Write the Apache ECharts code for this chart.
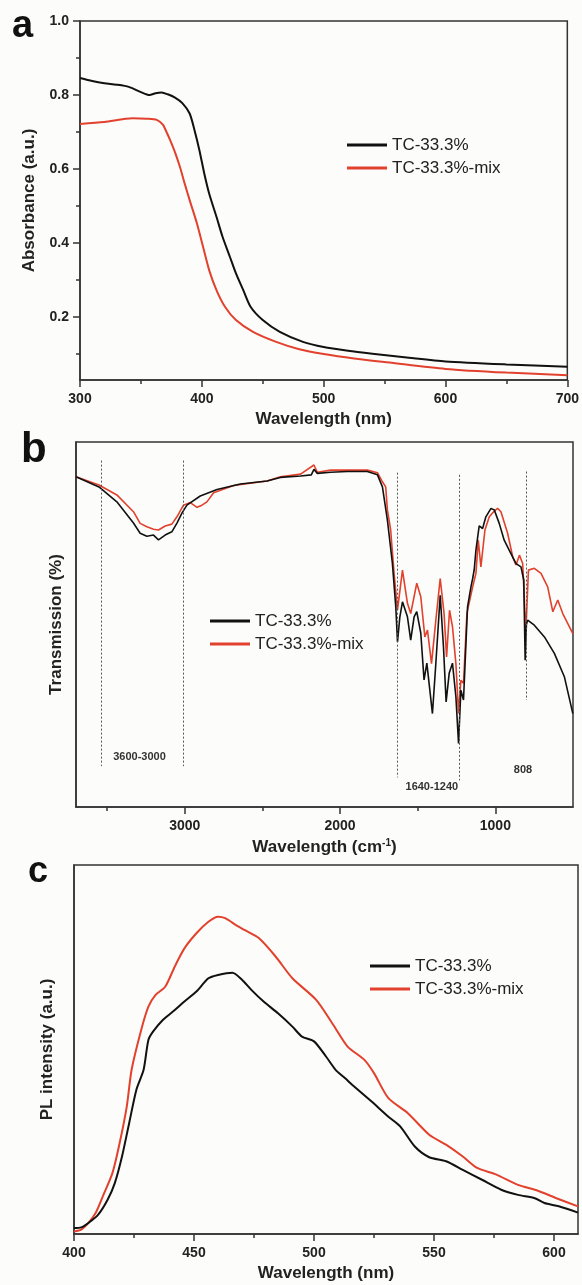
<!DOCTYPE html>
<html>
<head>
<meta charset="utf-8">
<script src="https://cdn.jsdelivr.net/npm/echarts@6/dist/echarts.min.js"></script>
<style>
  html, body { margin: 0; padding: 0; background: #fcfcfa; }
  #chart { width: 582px; height: 1285px; }
</style>
</head>
<body>
<div id="chart"></div>
<script>
// ---- panel a: absorbance ----
const absWlBlack = [300, 310, 320, 330, 340, 350, 357, 362, 367, 372, 378, 384, 390, 394, 398, 402, 406, 412, 417, 423, 428, 434, 440, 450, 464, 483, 500, 520, 540, 570, 600, 650, 700]
const absBlack = [0.846, 0.838, 0.832, 0.828, 0.822, 0.808, 0.800, 0.805, 0.807, 0.802, 0.793, 0.778, 0.750, 0.705, 0.651, 0.588, 0.534, 0.471, 0.417, 0.363, 0.318, 0.273, 0.228, 0.192, 0.160, 0.133, 0.119, 0.109, 0.101, 0.090, 0.080, 0.072, 0.066]
const absWlRed = [300, 320, 343, 355, 363, 368, 371, 374, 378, 382, 386, 390, 396, 401, 406, 412, 419, 428, 442, 461, 480, 500, 525, 554, 600, 650, 700]
const absRed = [0.722, 0.727, 0.737, 0.736, 0.733, 0.720, 0.700, 0.678, 0.645, 0.606, 0.560, 0.516, 0.453, 0.390, 0.327, 0.273, 0.228, 0.192, 0.160, 0.133, 0.113, 0.100, 0.088, 0.077, 0.060, 0.050, 0.043]
const absXLabels = [300, 400, 500, 600, 700]
const absXMinor = [350, 450, 550, 650]
const absYLabels = [0.2, 0.4, 0.6, 0.8, 1.0]
const absYMinor = [0.1, 0.3, 0.5, 0.7, 0.9]

// ---- panel b: FTIR transmission ----
const ftirWnBlack = [3700, 3552, 3437, 3330, 3287, 3244, 3201, 3169, 3126, 3083, 3050, 3018, 2986, 2900, 2792, 2642, 2470, 2384, 2254, 2185, 2168, 2146, 2061, 1953, 1824, 1759, 1727, 1695, 1663, 1641, 1630, 1615, 1598, 1566, 1545, 1523, 1506, 1480, 1459, 1441, 1405, 1383, 1355, 1334, 1317, 1297, 1276, 1254, 1237, 1222, 1205, 1179, 1157, 1146, 1136, 1125, 1104, 1082, 1061, 1028, 1007, 975, 943, 911, 867, 835, 817, 808, 800, 792, 749, 684, 620, 555, 501]
const ftirBlack = [90.5, 87.7, 83.6, 77.8, 75.0, 74.2, 74.5, 73.2, 74.5, 75.4, 77.8, 80.5, 82.7, 85.2, 87.0, 88.5, 89.3, 90.3, 90.7, 91.0, 92.5, 91.4, 91.7, 91.9, 91.9, 91.0, 87.7, 78.6, 66.8, 54.8, 45.2, 52.0, 56.2, 52.1, 45.7, 52.1, 53.5, 47.6, 34.8, 39.4, 25.6, 39.4, 58.0, 43.9, 28.8, 36.7, 39.4, 30.2, 17.4, 32.0, 29.3, 54.8, 60.3, 62.6, 65.0, 70.4, 77.0, 76.3, 79.5, 81.8, 81.4, 77.7, 73.1, 70.4, 66.7, 65.8, 62.2, 40.2, 50.0, 51.2, 49.8, 46.6, 42.1, 35.6, 25.6]
const ftirWnRed = [3700, 3552, 3437, 3330, 3287, 3244, 3201, 3169, 3126, 3083, 3050, 3008, 2964, 2921, 2889, 2857, 2814, 2685, 2470, 2384, 2254, 2168, 2146, 2061, 1953, 1824, 1759, 1727, 1706, 1695, 1674, 1652, 1630, 1598, 1566, 1545, 1506, 1480, 1454, 1437, 1411, 1383, 1355, 1330, 1314, 1295, 1276, 1254, 1237, 1222, 1205, 1183, 1146, 1125, 1110, 1093, 1067, 1039, 1011, 985, 964, 921, 888, 867, 845, 824, 814, 804, 787, 749, 706, 663, 630, 598, 566, 501]
const ftirRed = [90.5, 88.2, 85.5, 80.9, 77.7, 76.8, 76.1, 75.9, 77.0, 77.5, 79.5, 82.7, 83.4, 82.1, 82.7, 83.6, 86.1, 88.1, 89.3, 90.5, 91.2, 93.7, 91.7, 92.3, 92.3, 92.3, 91.6, 89.1, 87.7, 81.4, 75.9, 64.0, 54.0, 64.9, 55.8, 53.0, 61.3, 57.6, 46.6, 48.5, 39.3, 51.2, 62.6, 53.0, 41.1, 53.9, 49.4, 39.3, 25.6, 34.7, 33.9, 53.1, 60.3, 64.0, 73.1, 65.8, 75.9, 79.5, 80.9, 81.8, 80.9, 75.0, 68.5, 66.3, 69.0, 66.7, 57.6, 47.5, 64.9, 65.4, 64.0, 60.3, 53.5, 56.7, 53.0, 47.5]
const ftirXLabels = [3000, 2000, 1000]
const ftirXMinor = [3500, 2500, 1500]
// dashed guide lines: [wavenumber, top, bottom]
const ftirGuides = [[3540, 94.9, 11.2], [3010, 94.9, 11.2], [1630, 91.6, 8.1], [1233, 91.0, 7.3], [798, 91.9, 29.3]]
// band notes: [wavenumber, value, text]
const ftirNotes = [[3291, 13.7, '3600-3000'], [1409, 5.5, '1640-1240'], [822, 10.1, '808']]

// ---- panel c: PL ----
const plWlBlack = [400, 403, 406, 410, 414, 417, 420, 423, 426, 429, 431, 433, 437, 442, 446, 451, 456, 460, 466, 470, 474, 479, 485, 491, 495, 500, 505, 509, 513, 516, 524, 531, 536, 542, 548, 555, 562, 570, 578, 585, 592, 596, 602, 610]
const plBlack = [1.6, 1.8, 3.0, 5.2, 9.3, 13.8, 21.0, 30.1, 39.1, 44.5, 52.6, 54.9, 58.0, 60.7, 63.0, 65.7, 69.3, 70.2, 70.8, 68.9, 66.1, 63.0, 59.8, 56.2, 53.5, 52.2, 48.1, 44.5, 42.2, 40.4, 35.9, 31.8, 29.1, 23.7, 20.8, 19.7, 17.4, 14.7, 12.0, 10.6, 9.7, 8.4, 7.5, 5.8]
const plWlRed = [400, 403, 406, 409, 412, 416, 419, 422, 424, 428, 431, 434, 438, 442, 446, 451, 456, 460, 463, 468, 471, 477, 484, 491, 501, 508, 514, 521, 525, 531, 539, 548, 555, 562, 568, 576, 585, 593, 601, 610]
const plRed = [0.7, 1.2, 3.0, 5.7, 10.2, 16.5, 24.6, 34.6, 44.5, 55.3, 61.6, 64.8, 67.0, 72.5, 77.4, 81.5, 84.6, 86.0, 85.6, 83.5, 82.4, 80.2, 75.2, 69.3, 63.4, 56.7, 50.8, 47.2, 43.6, 36.8, 32.8, 26.9, 24.2, 21.0, 17.9, 16.1, 13.3, 11.8, 9.7, 7.5]
const plXLabels = [400, 450, 500, 550, 600]
const plXMinor = [425, 475, 525, 575]

const names = ['TC-33.3%', 'TC-33.3%-mix']
const colors = ['#111111', '#e2412d']

const FONT = '"Liberation Sans", Arial, Helvetica, sans-serif'
const AXIS = '#333'

const zip = (xs, ys) => xs.map((x, i) => [x, ys[i]])

const titleStyle = { fontFamily: FONT, fontSize: 17, fontWeight: 'bold', color: '#222' }

function mainAxis(grid, min, max, labels, name, extra) {
  return Object.assign({
    type: 'value', gridIndex: grid, min: min, max: max,
    axisLine: { show: true, onZero: false, lineStyle: { color: AXIS, width: 1.5 } },
    axisTick: { show: true, length: 7, customValues: labels, lineStyle: { color: AXIS, width: 1.5 } },
    axisLabel: { show: true, customValues: labels, margin: 12, color: '#222', fontFamily: FONT, fontSize: 14, fontWeight: 'bold', formatter: v => String(v) },
    splitLine: { show: false },
    name: name, nameLocation: 'middle', nameGap: 31, nameTextStyle: titleStyle
  }, extra)
}

function minorAxis(grid, min, max, ticks, extra) {
  return Object.assign({
    type: 'value', gridIndex: grid, min: min, max: max,
    axisLine: { show: false, onZero: false },
    axisTick: { show: true, length: 4, customValues: ticks, lineStyle: { color: AXIS, width: 1.5 } },
    axisLabel: { show: false },
    splitLine: { show: false }
  }, extra)
}

function blankY(grid, name, gap) {
  return {
    type: 'value', gridIndex: grid, min: 0, max: 100,
    axisLine: { show: true, lineStyle: { color: AXIS, width: 1.5 } },
    axisTick: { show: false }, axisLabel: { show: false }, splitLine: { show: false },
    name: name, nameLocation: 'middle', nameGap: gap, nameTextStyle: titleStyle
  }
}

function line(i, xs, ys, xIdx, yIdx, width, extra) {
  return Object.assign({
    name: names[i], type: 'line', xAxisIndex: xIdx, yAxisIndex: yIdx,
    data: zip(xs, ys), symbol: 'none', smooth: 0.25,
    lineStyle: { color: colors[i], width: width }, itemStyle: { color: colors[i] },
    silent: true, animation: false, z: 3 - i
  }, extra)
}

function legendAt(left, top) {
  return {
    left: left, top: top, padding: 0, orient: 'vertical', selectedMode: false,
    icon: 'rect', itemWidth: 40, itemHeight: 3, itemGap: 3, data: names,
    textStyle: { fontFamily: FONT, fontSize: 17, color: '#222', lineHeight: 20 }
  }
}

function letter(text, x, y, size) {
  return { type: 'text', x: x, y: y, style: { text: text, fontFamily: FONT, fontSize: size, fontWeight: 'bold', fill: '#111', verticalAlign: 'middle' } }
}

const gridBox = { show: true, borderColor: AXIS, borderWidth: 1.5, backgroundColor: 'transparent' }

const chart = echarts.init(document.getElementById('chart'))

chart.setOption({
  backgroundColor: '#fcfcfa',
  animation: false,
  grid: [
    Object.assign({ left: 80, top: 21, width: 489, height: 359 }, gridBox),
    Object.assign({ left: 76, top: 442, width: 497, height: 365 }, gridBox),
    Object.assign({ left: 74, top: 865, width: 504, height: 369 }, gridBox)
  ],
  xAxis: [
    mainAxis(0, 300, 700, absXLabels, 'Wavelength (nm)'),
    minorAxis(0, 300, 700, absXMinor, { position: 'bottom' }),
    mainAxis(1, 500, 3700, ftirXLabels, 'Wavelength (cm{sup|-1})', {
      inverse: true,
      nameTextStyle: Object.assign({}, titleStyle, { rich: { sup: { fontFamily: FONT, fontSize: 10, fontWeight: 'bold', color: '#222', verticalAlign: 'top', padding: [0, 0, 9, 0] } } })
    }),
    minorAxis(1, 500, 3700, ftirXMinor, { position: 'bottom', inverse: true }),
    mainAxis(2, 400, 610, plXLabels, 'Wavelength (nm)'),
    minorAxis(2, 400, 610, plXMinor, { position: 'bottom' })
  ],
  yAxis: [
    mainAxis(0, 0.03, 1.0, absYLabels, 'Absorbance (a.u.)', {
      nameGap: 42,
      axisLabel: { show: true, customValues: absYLabels, margin: 11, color: '#222', fontFamily: FONT, fontSize: 14, fontWeight: 'bold', formatter: v => v.toFixed(1) }
    }),
    minorAxis(0, 0.03, 1.0, absYMinor, { position: 'left' }),
    blankY(1, 'Transmission (%)', 11),
    blankY(2, 'PL intensity (a.u.)', 18)
  ],
  legend: [legendAt(347, 135), legendAt(210, 611), legendAt(370, 956)],
  graphic: [
    letter('a', 12, 27, 38),
    letter('b', 21, 450, 42),
    letter('c', 28, 872, 36)
  ],
  series: [
    line(0, absWlBlack, absBlack, 0, 0, 2),
    line(1, absWlRed, absRed, 0, 0, 2),
    line(0, ftirWnBlack, ftirBlack, 2, 2, 1.6, {
      smooth: false,
      markLine: {
        silent: true, symbol: ['none', 'none'], animation: false,
        lineStyle: { color: '#555', width: 1, type: [2, 2] },
        label: { show: false },
        data: ftirGuides.map(g => [{ coord: [g[0], g[1]] }, { coord: [g[0], g[2]] }])
      },
      markPoint: {
        silent: true, symbol: 'circle', symbolSize: 1, animation: false,
        itemStyle: { color: 'rgba(0,0,0,0)' },
        label: { show: true, position: 'inside', formatter: '{b}', fontFamily: FONT, fontSize: 11, fontWeight: 'bold', color: '#333' },
        data: ftirNotes.map(n => ({ coord: [n[0], n[1]], name: n[2] }))
      }
    }),
    line(1, ftirWnRed, ftirRed, 2, 2, 1.6, { smooth: false }),
    line(0, plWlBlack, plBlack, 4, 3, 2),
    line(1, plWlRed, plRed, 4, 3, 2)
  ]
})
</script>
</body>
</html>
